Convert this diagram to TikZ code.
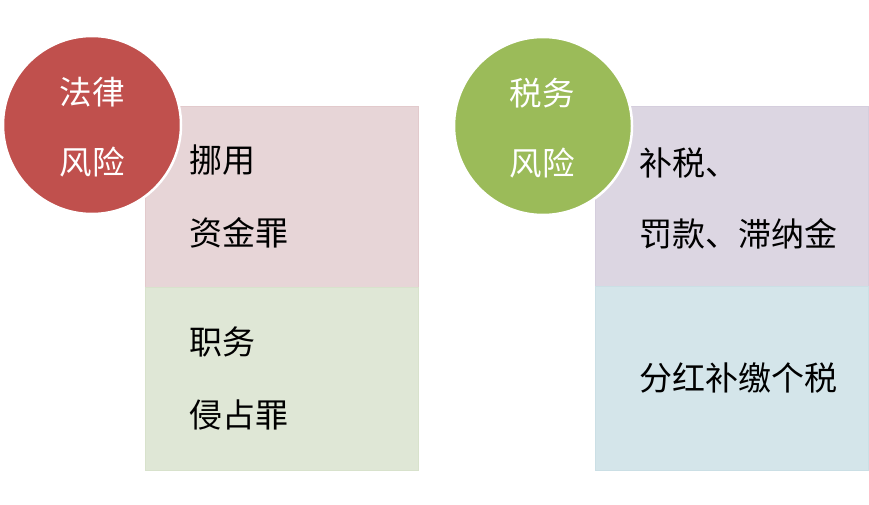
\documentclass[tikz,border=0pt]{standalone}
\usepackage{fontspec}
\newfontfamily\cjk{Noto Sans CJK SC}
\definecolor{cred}{HTML}{C0504D}
\definecolor{cgreen}{HTML}{9BBB59}
\definecolor{fpink}{HTML}{E7D5D7}
\definecolor{bpink}{HTML}{E2CACC}
\definecolor{fgreen}{HTML}{DFE7D6}
\definecolor{bgreen}{HTML}{D8E2CC}
\definecolor{flav}{HTML}{DCD6E2}
\definecolor{blav}{HTML}{D5CEDD}
\definecolor{fblue}{HTML}{D4E5EA}
\definecolor{bblue}{HTML}{CBDFE5}
\tikzset{
  panel/.style={line width=1.2pt, inner sep=0pt, anchor=north west},
  badge/.style={circle, draw=white, line width=2.5pt, minimum size=178pt, inner sep=0pt},
  badgetext/.style={text=white, font=\cjk\fontsize{32.5}{32.5}\selectfont, inner sep=0pt},
  itemtext/.style={text=black, font=\cjk\fontsize{33}{33}\selectfont, inner sep=0pt, anchor=west},
}
\begin{document}
\begin{tikzpicture}[x=1pt,y=-1pt]
\useasboundingbox (0,0) rectangle (869,505);
% left panels
\node[panel, fill=fpink, draw=bpink, minimum width=273pt, minimum height=181pt] (lp1) at (145,106) {};
\node[panel, fill=fgreen, draw=bgreen, minimum width=273pt, minimum height=183pt] (lp2) at (145,287) {};
% right panels
\node[panel, fill=flav, draw=blav, minimum width=273pt, minimum height=180pt] (rp1) at (595,106) {};
\node[panel, fill=fblue, draw=bblue, minimum width=273pt, minimum height=184pt] (rp2) at (595,286) {};
% badges
\node[badge, fill=cred] (lc) at (92,125) {};
\node[badge, fill=cgreen] (rc) at (543,126) {};
\node[badgetext] (lc1) at (92,92) {法律};
\node[badgetext] (lc2) at (92,162) {风险};
\node[badgetext] (rc1) at (542,93) {税务};
\node[badgetext] (rc2) at (542,163) {风险};
% items
\node[itemtext] (t1) at (189,160) {挪用};
\node[itemtext] (t2) at (189,233) {资金罪};
\node[itemtext] (t3) at (189,342) {职务};
\node[itemtext] (t4) at (189,415) {侵占罪};
\node[itemtext] (t5) at (639,163) {补税、};
\node[itemtext] (t6) at (639,234) {罚款、滞纳金};
\node[itemtext] (t7) at (639,378) {分红补缴个税};
\end{tikzpicture}
\end{document}
